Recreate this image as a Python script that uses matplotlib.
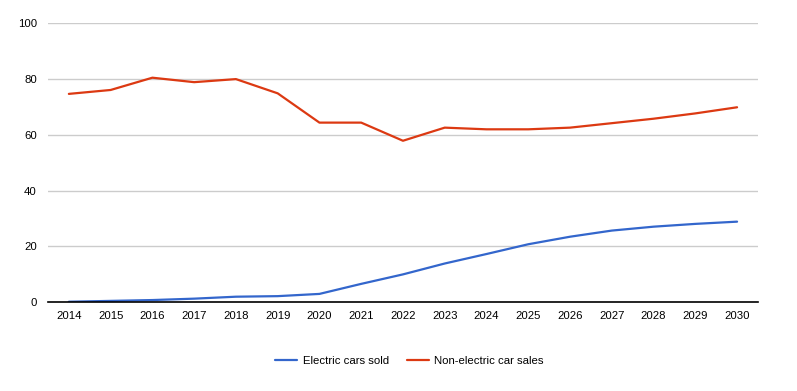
import matplotlib
matplotlib.use("Agg")
import matplotlib.pyplot as plt
import numpy as np

years = ['2014', '2015', '2016', '2017', '2018', '2019', '2020', '2021', '2022',
         '2023', '2024', '2025', '2026', '2027', '2028', '2029', '2030']
electric = [0.2, 0.5, 0.8, 1.3, 2.0, 2.2, 3.0, 6.6, 10.0,
            13.9, 17.3, 20.8, 23.5, 25.7, 27.1, 28.1, 28.9]
non_electric = [74.7, 76.1, 80.5, 78.9, 80.0, 74.9, 64.4, 64.4, 57.9,
                62.6, 62.0, 62.0, 62.6, 64.2, 65.8, 67.7, 69.9]

plt.rcParams['font.family'] = ['Liberation Sans', 'DejaVu Sans']

fig = plt.figure(figsize=(7.97, 3.91), dpi=100)
ax = fig.add_axes([0.0602, 0.2269, 0.8908, 0.7135])

x = np.arange(len(years))
ax.plot(x, electric, color='#3366cc', lw=1.6, label='Electric cars sold', solid_capstyle='round')
ax.plot(x, non_electric, color='#dc3912', lw=1.6, label='Non-electric car sales', solid_capstyle='round')

ax.set_xlim(-0.5, len(years) - 0.5)
ax.set_ylim(0, 100)
ax.set_yticks([0, 20, 40, 60, 80, 100])
ax.set_xticks(x)
ax.set_xticklabels(years)
ax.grid(axis='y', color='#cccccc', lw=1)
ax.set_axisbelow(True)
for s in ['top', 'right', 'left']:
    ax.spines[s].set_visible(False)
ax.spines['bottom'].set_color('black')
ax.spines['bottom'].set_linewidth(1.2)
ax.spines['bottom'].set_zorder(5)
ax.tick_params(length=0, labelsize=8.2, colors='black', pad=6)
ax.tick_params(axis='y', pad=8)

fig.legend(loc='center', bbox_to_anchor=(0.514, 0.077), ncol=2, frameon=False,
           fontsize=8.2, handlelength=1.9, handletextpad=0.5, columnspacing=1.6)

fig.savefig('out.png', dpi=100)
